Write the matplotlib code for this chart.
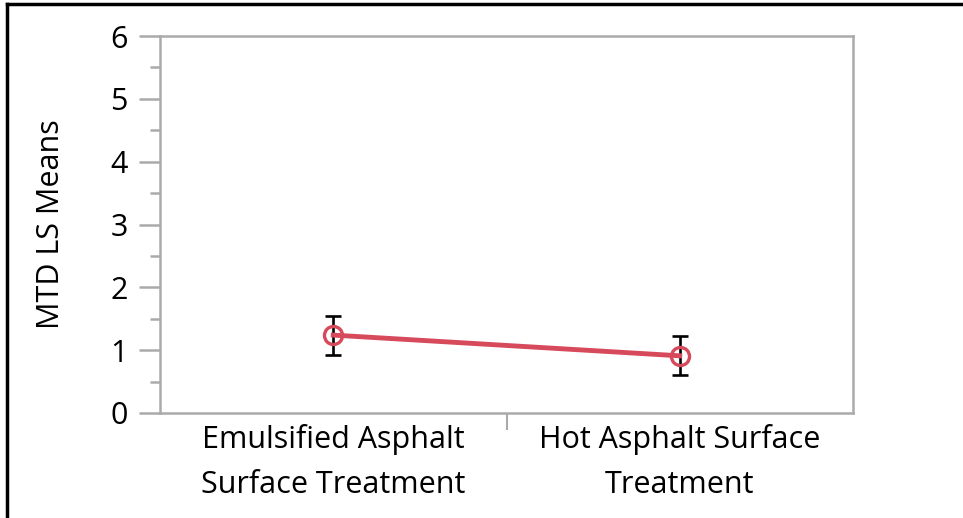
import matplotlib
matplotlib.use("Agg")
import matplotlib.pyplot as plt
from matplotlib.lines import Line2D
from matplotlib.ticker import MultipleLocator, FixedLocator, NullFormatter

# data
categories = ["Emulsified Asphalt\nSurface Treatment", "Hot Asphalt Surface\nTreatment"]
ls_means = [1.24, 0.91]
err = [0.31, 0.31]

plt.rcParams["font.family"] = ["Open Sans", "DejaVu Sans"]

grey = "#aaaaaa"
red = "#d64a5b"
fs = 22

fig = plt.figure(figsize=(9.63, 5.18), dpi=100)
ax = fig.add_axes([160 / 963, 1 - 413 / 518, 693 / 963, 377 / 518])

x = range(len(categories))
ax.errorbar(x, ls_means, yerr=err, fmt="none", ecolor="black",
            elinewidth=1.9, capsize=6, capthick=1.9, zorder=2)
ax.plot(x, ls_means, color=red, lw=3.5, marker="o", ms=13,
        mfc="none", mec=red, mew=2.4, zorder=3)

ax.set_xlim(-0.5, 1.5)
ax.set_ylim(0, 6)
ax.yaxis.set_major_locator(MultipleLocator(1))
ax.yaxis.set_minor_locator(MultipleLocator(0.5))
ax.set_xticks(list(x))
ax.set_xticklabels(categories, fontsize=fs, linespacing=1.65)
ax.xaxis.set_minor_locator(FixedLocator([0.5]))
ax.xaxis.set_minor_formatter(NullFormatter())

for s in ax.spines.values():
    s.set_color(grey)
    s.set_linewidth(1.8)

ax.tick_params(axis="y", which="major", direction="out", length=15, width=1.8,
               color=grey, labelsize=fs, pad=8)
ax.tick_params(axis="y", which="minor", direction="out", length=7, width=1.8, color=grey)
ax.tick_params(axis="x", which="major", length=0, pad=8)
ax.tick_params(axis="x", which="minor", direction="out", length=12, width=1.5, color=grey)

ax.set_ylabel("MTD LS Means", fontsize=fs, labelpad=32)

# outer frame (left and top edge)
fig.add_artist(Line2D([7 / 963, 7 / 963], [0, 1 - 4 / 518], color="black", lw=2.5,
                      transform=fig.transFigure))
fig.add_artist(Line2D([7 / 963, 1], [1 - 4 / 518, 1 - 4 / 518], color="black", lw=2.5,
                      transform=fig.transFigure))

fig.savefig("out.png", dpi=100, facecolor="white")
